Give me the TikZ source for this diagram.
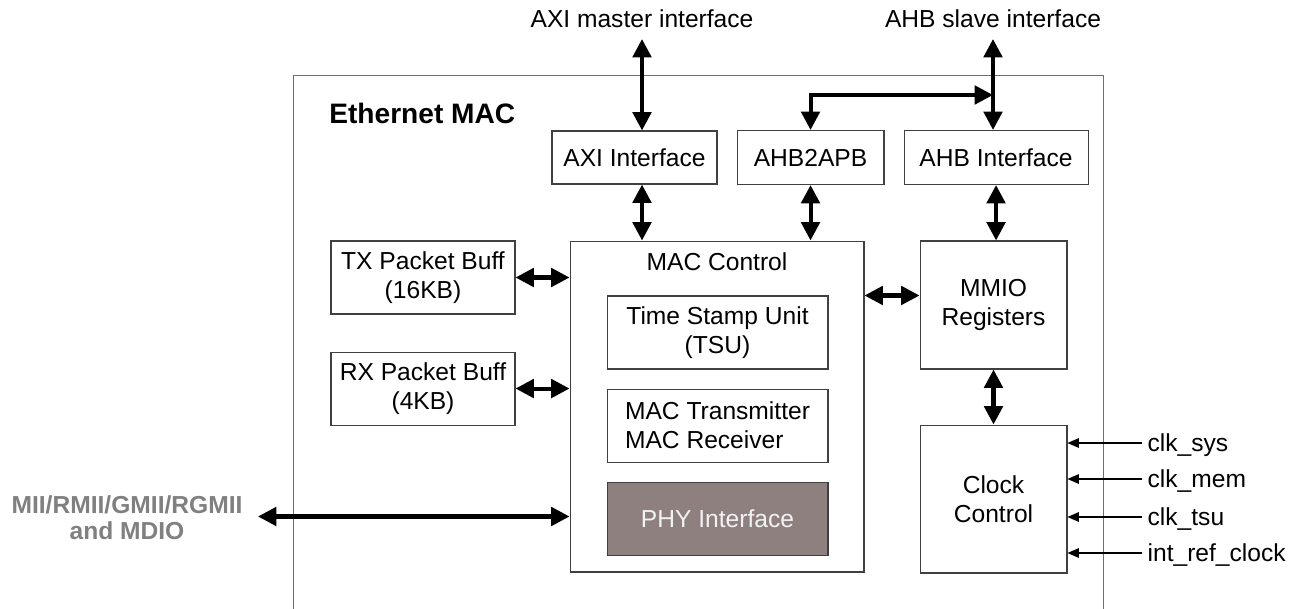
\documentclass[tikz,border=0pt]{standalone}
\usepackage{fontspec}
\setmainfont{Liberation Sans}
\usetikzlibrary{arrows.meta, positioning}
\definecolor{phyfill}{RGB}{143,128,128}
\definecolor{boxline}{RGB}{64,64,64}
\definecolor{macline}{RGB}{110,110,110}
\definecolor{miigray}{RGB}{128,128,128}

\begin{document}
\begin{tikzpicture}[
    x=0.02cm, y=-0.02cm,
    box/.style={draw=boxline, line width=0.6pt, align=center, inner sep=2pt,
                font=\fontsize{14}{16.5}\selectfont},
    txt/.style={inner sep=2pt, font=\fontsize{14}{16.5}\selectfont},
    bus/.style={line width=2.3pt, {Triangle[length=10.5pt,width=10.5pt]}-{Triangle[length=10.5pt,width=10.5pt]}},
    clkin/.style={line width=0.6pt, -{Triangle[length=6.5pt,width=5.5pt]}},
  ]
    \clip (0,0) rectangle (1290,608);

    % outer block
    \node[draw=macline, line width=0.6pt, minimum width=16.22cm, minimum height=11.3cm] (eth) at (698.5,357.5) {};
    \node[anchor=west, inner sep=0pt, font=\bfseries\fontsize{16}{19}\selectfont] (ethl) at (329,113) {Ethernet MAC};

    % bus interfaces
    \node[box, minimum width=3.3cm, minimum height=1.06cm] (axi) at (634.5,157.5) {AXI Interface};
    \node[box, minimum width=2.94cm, minimum height=1.08cm, right=0.38cm of axi] (ahbapb) {AHB2APB};
    \node[box, minimum width=3.68cm, minimum height=1.08cm, right=0.38cm of ahbapb] (ahb) {AHB Interface};

    % packet buffers
    \node[box, minimum width=3.68cm, minimum height=1.46cm] (txbuf) at (423,277.5) {TX Packet Buff\\(16KB)};
    \node[box, minimum width=3.68cm, minimum height=1.46cm, below=0.74cm of txbuf] (rxbuf) {RX Packet Buff\\(4KB)};

    % MAC control
    \node[box, minimum width=5.88cm, minimum height=6.62cm] (mac) at (717,406.5) {};
    \node[txt] (macl) at (717,262) {MAC Control};
    \node[box, minimum width=4.42cm, minimum height=1.46cm] (tsu) at (717.5,332.5) {Time Stamp Unit\\(TSU)};
    \node[box, minimum width=4.42cm, minimum height=1.46cm, align=left, below=0.38cm of tsu] (trx) {MAC Transmitter\\MAC Receiver};
    \node[box, minimum width=4.42cm, minimum height=1.46cm, fill=phyfill, text=white!95!black, below=0.38cm of trx] (phy) {PHY Interface};

    % registers and clocks
    \node[box, minimum width=2.94cm, minimum height=2.56cm] (mmio) at (993.5,305) {MMIO\\Registers};
    \node[box, minimum width=2.94cm, minimum height=2.96cm, below=1.1cm of mmio] (clk) {Clock\\Control};

    % outside labels
    \node[txt] (axim) at (642,19) {AXI master interface};
    \node[txt] (ahbs) at (993,19) {AHB slave interface};
    \node[align=center, text=miigray, font=\bfseries\fontsize{14}{15}\selectfont] (mii) at (127,518) {MII/RMII/GMII/RGMII\\and MDIO};
    \coordinate (axitop) at (642,39);
    \coordinate (ahbtop) at (993,39);
    \coordinate (ahbj) at (993,95);
    \coordinate (miiend) at (258,516.5);

    \draw[bus] (axitop) -- (axitop |- axi.north);
    \draw[bus] (ahbtop) -- (ahbtop |- ahb.north);
    \draw[bus] (ahbapb.north) |- (ahbj);
    \draw[bus] (axitop |- axi.south) -- (axitop |- mac.north);
    \draw[bus] (ahbapb.south) -- (ahbapb.south |- mac.north);
    \draw[bus] (ahb.south) -- (ahb.south |- mmio.north);
    \draw[bus] (txbuf.east) -- (txbuf.east -| mac.west);
    \draw[bus] (rxbuf.east) -- (rxbuf.east -| mac.west);
    \draw[bus] (mac.east |- tsu.north) -- (mmio.west |- tsu.north);
    \draw[bus] (mmio.south) -- (clk.north);
    \draw[bus] (miiend) -- (miiend -| mac.west);

    % clock inputs
    \foreach \y/\name/\lbl in {443/csys/clk\_sys, 479/cmem/clk\_mem, 517/ctsu/clk\_tsu, 553/cref/int\_ref\_clock} {
      \node[txt, anchor=west, text height=10.2pt, text depth=0pt, inner sep=3pt] (\name) at (1142,\y) {\lbl};
      \draw[clkin] (\name.west) -- (\name.west -| clk.east);
    }
\end{tikzpicture}
\end{document}
